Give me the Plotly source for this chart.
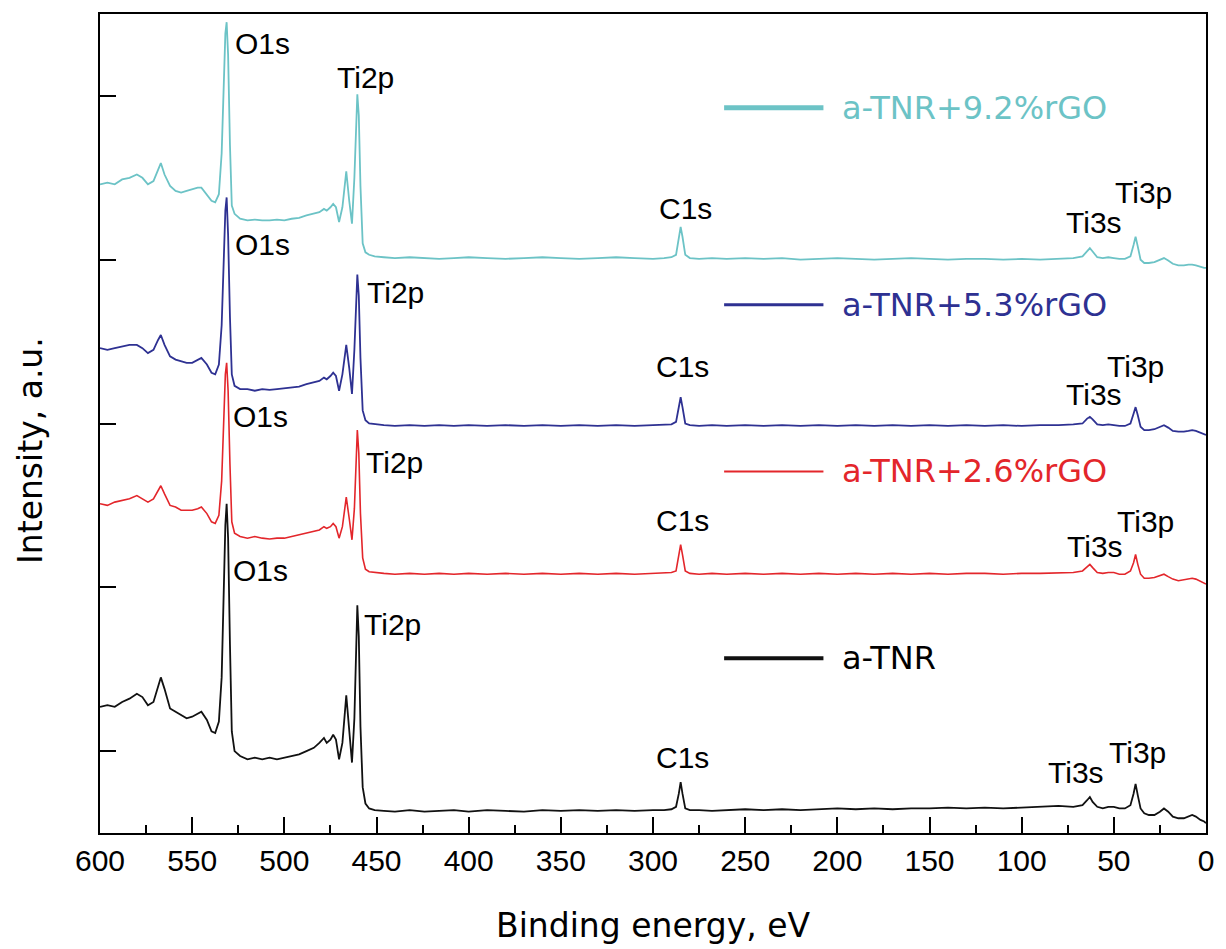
import plotly.graph_objects as go

# Binding energy (eV), shared by all spectra
energy = [600, 596, 592, 588, 584, 580, 577, 574, 571, 568.5, 567, 565, 562, 559, 556, 553, 550, 547, 545, 542,
          539.5, 537.5, 535.5, 534, 533, 532, 531.3, 530.5, 529.5, 528.5, 527, 524, 520, 516, 512, 508, 504, 500,
          496, 492, 488, 484, 481, 478.5, 477, 475, 473.5, 472, 470.3, 468.5, 466.4, 464.8, 463.3, 462, 461,
          460.4, 459.6, 458.7, 457.5, 456, 454, 451, 446, 440, 432, 424, 416, 408, 400, 390, 380, 370, 360, 350,
          340, 330, 320, 310, 300, 294, 290, 287.5, 286, 285, 284, 282.5, 280, 275, 268, 260, 250, 240, 230,
          220, 210, 200, 190, 180, 170, 160, 150, 140, 130, 120, 110, 100, 90, 80, 72, 67, 64.5, 63, 61.5, 59,
          56, 53, 50, 47, 44, 41, 39.3, 38.2, 37, 35.5, 33.5, 31, 28, 25, 22.8, 20.5, 18, 15, 12, 9.5, 7.5, 5.5,
          3, 1, 0]

# Intensities (a.u., stacked with offsets as in the figure)
tnr = [0.77, 0.78, 0.77, 0.80, 0.82, 0.85, 0.83, 0.78, 0.80, 0.90, 0.95, 0.88, 0.76, 0.74, 0.72, 0.70, 0.71, 0.73,
       0.74, 0.69, 0.62, 0.61, 0.68, 0.95, 1.45, 1.88, 2.01, 1.80, 1.15, 0.62, 0.50, 0.47, 0.45, 0.46, 0.45, 0.46,
       0.45, 0.46, 0.47, 0.48, 0.50, 0.52, 0.55, 0.58, 0.55, 0.57, 0.60, 0.57, 0.45, 0.55, 0.84, 0.62, 0.43, 0.70,
       1.20, 1.39, 1.20, 0.65, 0.28, 0.18, 0.15, 0.14, 0.135, 0.13, 0.14, 0.13, 0.135, 0.14, 0.13, 0.14, 0.135,
       0.13, 0.14, 0.135, 0.14, 0.135, 0.14, 0.135, 0.14, 0.14, 0.145, 0.16, 0.24, 0.31, 0.24, 0.15, 0.14, 0.14,
       0.135, 0.14, 0.145, 0.14, 0.145, 0.14, 0.145, 0.15, 0.145, 0.15, 0.145, 0.15, 0.15, 0.155, 0.15, 0.155,
       0.15, 0.155, 0.16, 0.165, 0.16, 0.17, 0.20, 0.22, 0.19, 0.16, 0.15, 0.16, 0.16, 0.15, 0.15, 0.17, 0.24,
       0.30, 0.23, 0.15, 0.12, 0.11, 0.11, 0.13, 0.15, 0.13, 0.10, 0.09, 0.09, 0.10, 0.11, 0.10, 0.08, 0.07, 0.06]

rgo26 = [2.01, 2.00, 2.02, 2.03, 2.04, 2.06, 2.04, 2.02, 2.04, 2.09, 2.12, 2.07, 2.00, 1.99, 1.97, 1.97, 1.97, 1.98,
         1.99, 1.95, 1.90, 1.89, 1.94, 2.15, 2.50, 2.80, 2.87, 2.70, 2.25, 1.90, 1.83, 1.81, 1.80, 1.81, 1.80, 1.795,
         1.80, 1.80, 1.81, 1.82, 1.83, 1.84, 1.85, 1.87, 1.86, 1.87, 1.89, 1.87, 1.80, 1.87, 2.05, 1.92, 1.79, 1.98,
         2.32, 2.46, 2.32, 1.95, 1.68, 1.61, 1.595, 1.59, 1.585, 1.58, 1.585, 1.58, 1.585, 1.58, 1.585, 1.58, 1.585,
         1.58, 1.585, 1.58, 1.585, 1.58, 1.585, 1.58, 1.585, 1.585, 1.59, 1.60, 1.70, 1.76, 1.70, 1.60, 1.585, 1.58,
         1.585, 1.58, 1.585, 1.58, 1.585, 1.58, 1.585, 1.58, 1.585, 1.58, 1.585, 1.58, 1.585, 1.58, 1.585, 1.585,
         1.58, 1.585, 1.585, 1.59, 1.59, 1.60, 1.625, 1.64, 1.62, 1.59, 1.585, 1.59, 1.59, 1.58, 1.58, 1.60, 1.65,
         1.70, 1.64, 1.58, 1.555, 1.555, 1.56, 1.57, 1.58, 1.565, 1.55, 1.54, 1.545, 1.55, 1.555, 1.55, 1.535,
         1.525, 1.52]

rgo53 = [2.96, 2.95, 2.96, 2.97, 2.98, 2.98, 2.96, 2.93, 2.95, 3.01, 3.04, 2.98, 2.91, 2.89, 2.88, 2.87, 2.87, 2.89,
         2.90, 2.86, 2.81, 2.80, 2.86, 3.10, 3.45, 3.80, 3.88, 3.65, 3.15, 2.80, 2.73, 2.71, 2.71, 2.70, 2.71, 2.705,
         2.71, 2.715, 2.72, 2.725, 2.74, 2.75, 2.76, 2.78, 2.77, 2.79, 2.81, 2.79, 2.70, 2.80, 2.98, 2.84, 2.68, 2.95,
         3.30, 3.41, 3.28, 2.90, 2.58, 2.52, 2.50, 2.495, 2.49, 2.485, 2.49, 2.485, 2.49, 2.485, 2.49, 2.485, 2.49,
         2.485, 2.49, 2.485, 2.49, 2.485, 2.49, 2.485, 2.49, 2.49, 2.495, 2.51, 2.60, 2.66, 2.60, 2.50, 2.49, 2.485,
         2.49, 2.485, 2.49, 2.485, 2.49, 2.485, 2.49, 2.485, 2.49, 2.485, 2.49, 2.485, 2.49, 2.485, 2.49, 2.485,
         2.49, 2.485, 2.49, 2.49, 2.495, 2.50, 2.53, 2.54, 2.525, 2.495, 2.49, 2.495, 2.49, 2.485, 2.485, 2.50, 2.56,
         2.60, 2.55, 2.48, 2.46, 2.46, 2.465, 2.48, 2.49, 2.475, 2.455, 2.45, 2.45, 2.455, 2.46, 2.455, 2.445,
         2.435, 2.43]

rgo92 = [3.96, 3.97, 3.96, 3.99, 4.00, 4.02, 4.00, 3.96, 3.98, 4.05, 4.09, 4.02, 3.95, 3.92, 3.91, 3.92, 3.93, 3.94,
         3.94, 3.90, 3.86, 3.85, 3.90, 4.15, 4.55, 4.88, 4.95, 4.75, 4.20, 3.83, 3.78, 3.75, 3.74, 3.745, 3.74, 3.74,
         3.745, 3.74, 3.75, 3.755, 3.77, 3.78, 3.79, 3.81, 3.80, 3.82, 3.84, 3.82, 3.73, 3.82, 4.04, 3.86, 3.72, 4.00,
         4.38, 4.51, 4.38, 3.95, 3.60, 3.545, 3.53, 3.52, 3.515, 3.51, 3.515, 3.51, 3.505, 3.51, 3.515, 3.51, 3.505,
         3.51, 3.515, 3.51, 3.505, 3.51, 3.515, 3.51, 3.505, 3.51, 3.515, 3.53, 3.64, 3.70, 3.64, 3.53, 3.51, 3.505,
         3.51, 3.505, 3.51, 3.505, 3.51, 3.50, 3.505, 3.51, 3.505, 3.50, 3.505, 3.51, 3.505, 3.50, 3.505, 3.505,
         3.50, 3.505, 3.50, 3.505, 3.51, 3.52, 3.55, 3.57, 3.55, 3.515, 3.51, 3.515, 3.51, 3.505, 3.505, 3.52, 3.59,
         3.64, 3.58, 3.50, 3.48, 3.48, 3.485, 3.50, 3.51, 3.495, 3.475, 3.465, 3.465, 3.47, 3.47, 3.465, 3.455,
         3.45, 3.45]

series_names = ["a-TNR", "a-TNR+2.6%rGO", "a-TNR+5.3%rGO", "a-TNR+9.2%rGO"]
series_values = [tnr, rgo26, rgo53, rgo92]
series_colors = ["#111111", "#e3262b", "#2e3192", "#6cc3c6"]

# Peak labels (text, energy, intensity) per spectrum
peak_labels = [
    ("O1s", 513.2, 1.60), ("Ti2p", 441.5, 1.27), ("C1s", 284.1, 0.46), ("Ti3s", 70.6, 0.37), ("Ti3p", 37.2, 0.49),
    ("O1s", 512.7, 2.54), ("Ti2p", 440.4, 2.26), ("C1s", 284.1, 1.91), ("Ti3s", 60.4, 1.75), ("Ti3p", 32.9, 1.90),
    ("O1s", 511.6, 3.59), ("Ti2p", 439.9, 3.30), ("C1s", 284.1, 2.85), ("Ti3s", 60.9, 2.68), ("Ti3p", 38.3, 2.85),
    ("O1s", 512.1, 4.82), ("Ti2p", 456.1, 4.61), ("C1s", 282.5, 3.81), ("Ti3s", 60.9, 3.73), ("Ti3p", 34.0, 3.91),
]

x_ticks = [600, 550, 500, 450, 400, 350, 300, 250, 200, 150, 100, 50, 0]
y_ticks = [0.5, 1.5, 2.5, 3.5, 4.5]

for s in series_values:
    assert len(s) == len(energy)

fig = go.Figure()
widths = [1.8, 1.6, 1.8, 1.8]
for name, vals, col, w in zip(series_names, series_values, series_colors, widths):
    fig.add_trace(go.Scatter(x=energy, y=vals, mode="lines", name=name,
                             line=dict(color=col, width=w), showlegend=False))

label_font = dict(family="Liberation Sans, Arial, sans-serif", size=30, color="black")
for txt, ex, iy in peak_labels:
    fig.add_annotation(x=ex, y=iy, text=txt, showarrow=False, xanchor="center", yanchor="middle",
                       font=label_font)

# Custom legend (sample line + text), matching the figure's placement
legend_pos = {"a-TNR+9.2%rGO": 0.8854, "a-TNR+5.3%rGO": 0.6451, "a-TNR+2.6%rGO": 0.4415, "a-TNR": 0.2134}
legend_w = {"a-TNR+9.2%rGO": 5, "a-TNR+5.3%rGO": 3, "a-TNR+2.6%rGO": 2, "a-TNR": 4}
for name, col in zip(series_names, series_colors):
    yp = legend_pos[name]
    fig.add_shape(type="line", xref="paper", yref="paper", x0=0.5643, x1=0.6541, y0=yp, y1=yp,
                  line=dict(color=col, width=legend_w[name]))
    fig.add_annotation(xref="paper", yref="paper", x=0.6694, y=yp, text=name, showarrow=False,
                       xanchor="left", yanchor="middle",
                       font=dict(family="DejaVu Sans, sans-serif", size=32,
                                 color=col if name != "a-TNR" else "black"))

# Axis titles
fig.add_annotation(xref="paper", yref="paper", x=0.5, y=-0.113, text="Binding energy, eV", showarrow=False,
                   xanchor="center", yanchor="middle", font=dict(family="DejaVu Sans, sans-serif", size=33, color="black"))
fig.add_annotation(xref="paper", yref="paper", x=-0.0629, y=0.467, text="Intensity, a.u.", showarrow=False,
                   textangle=-90, xanchor="center", yanchor="middle",
                   font=dict(family="DejaVu Sans, sans-serif", size=33, color="black"))

fig.update_layout(
    width=1226, height=949,
    margin=dict(l=100, r=13, t=13, b=116),
    plot_bgcolor="white", paper_bgcolor="white",
    showlegend=False,
)
fig.update_xaxes(range=[600, 0], tickvals=x_ticks, ticktext=[str(v) for v in x_ticks],
                 ticks="inside", ticklen=16, tickwidth=2, tickcolor="black",
                 minor=dict(ticks="inside", ticklen=8, tickwidth=2, tickcolor="black", dtick=25, showgrid=False),
                 showline=True, linecolor="black", linewidth=2, mirror=True,
                 showgrid=False, zeroline=False, ticklabelstandoff=0,
                 tickfont=dict(family="Liberation Sans, Arial, sans-serif", size=30, color="black"))
fig.update_yaxes(range=[0, 5], tickvals=y_ticks, showticklabels=False,
                 ticks="inside", ticklen=16, tickwidth=2, tickcolor="black",
                 showline=True, linecolor="black", linewidth=2, mirror=True,
                 showgrid=False, zeroline=False)

fig.write_html("out.html")
